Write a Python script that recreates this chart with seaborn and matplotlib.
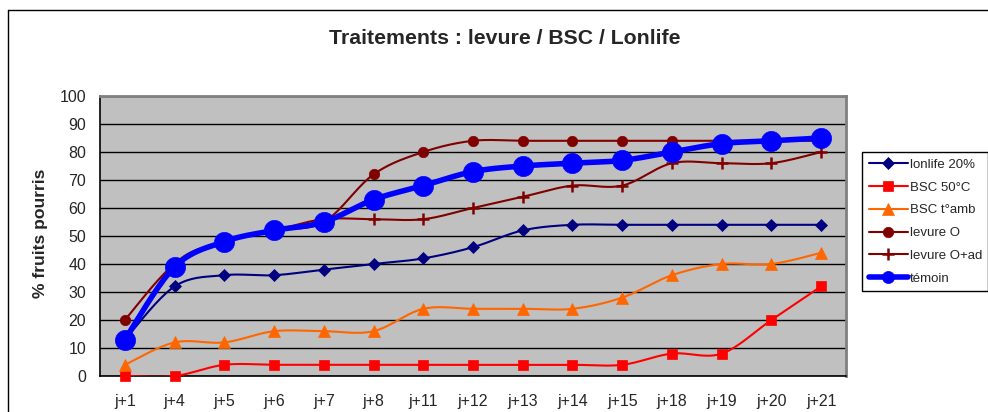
import numpy as np
import pandas as pd
import matplotlib
matplotlib.use("Agg")
import matplotlib.pyplot as plt
from matplotlib.lines import Line2D
import seaborn as sns

# chart data
days = ['j+1', 'j+4', 'j+5', 'j+6', 'j+7', 'j+8', 'j+11', 'j+12',
        'j+13', 'j+14', 'j+15', 'j+18', 'j+19', 'j+20', 'j+21']
lonlife = [13, 32, 36, 36, 38, 40, 42, 46, 52, 54, 54, 54, 54, 54, 54]
bsc_50 = [0, 0, 4, 4, 4, 4, 4, 4, 4, 4, 4, 8, 8, 20, 32]
bsc_amb = [4, 12, 12, 16, 16, 16, 24, 24, 24, 24, 28, 36, 40, 40, 44]
levure_o = [20, 40, 48, 52, 55, 72, 80, 84, 84, 84, 84, 84, 84, 84, 84]
levure_oad = [13, 40, 48, 52, 56, 56, 56, 60, 64, 68, 68, 76, 76, 76, 80]
temoin = [13, 39, 48, 52, 55, 63, 68, 73, 75, 76, 77, 80, 83, 84, 85]

series = [
    ('lonlife 20%', lonlife, '#000080', 'D', 6.5, 1.5),
    ('BSC 50°C', bsc_50, '#FF0000', 's', 7.5, 1.5),
    ('BSC t°amb', bsc_amb, '#FF6600', '^', 8, 1.5),
    ('levure O', levure_o, '#800000', 'o', 7.5, 1.5),
    ('levure O+ad', levure_oad, '#800000', '+', 9, 1.5),
    ('témoin', temoin, '#0000FF', 'o', 14.5, 4),
]


def smooth(x, y, n=20):
    # excel-like smoothed line (catmull-rom, used only for drawing the curve)
    x = np.asarray(x, float)
    y = np.asarray(y, float)
    px = np.concatenate([[x[0]], x, [x[-1]]])
    py = np.concatenate([[y[0]], y, [y[-1]]])
    xs, ys = [], []
    t = np.linspace(0, 1, n, endpoint=False)
    for i in range(1, len(px) - 2):
        p0, p1, p2, p3 = [np.array([px[j], py[j]]) for j in (i - 1, i, i + 1, i + 2)]
        c1 = p1 + (p2 - p0) / 6
        c2 = p2 - (p3 - p1) / 6
        b = ((1 - t) ** 3)[:, None] * p1 + (3 * (1 - t) ** 2 * t)[:, None] * c1 \
            + (3 * (1 - t) * t ** 2)[:, None] * c2 + (t ** 3)[:, None] * p2
        xs.extend(b[:, 0])
        ys.extend(b[:, 1])
    xs.append(x[-1])
    ys.append(y[-1])
    return np.array(xs), np.array(ys)


sns.set_style('white')
plt.rcParams['font.family'] = ['Liberation Sans', 'DejaVu Sans']

fig = plt.figure(figsize=(9.88, 4.12), dpi=100)
ax = fig.add_axes([100 / 988, 36 / 412, 746 / 988, 280 / 412])
ax.set_facecolor('#C0C0C0')

pos = np.arange(len(days))
handles = []
for name, vals, col, mk, ms, lw in series:
    sx, sy = smooth(pos, vals)
    curve = pd.DataFrame({'x': sx, 'y': sy})
    sns.lineplot(data=curve, x='x', y='y', ax=ax, color=col, linewidth=lw,
                 sort=False, estimator=None, legend=False, zorder=3)
    mew = 1.8 if mk == '+' else 0.5
    ax.plot(pos, vals, linestyle='none', marker=mk, markersize=ms, color=col,
            markeredgecolor=col, markeredgewidth=mew, zorder=4, clip_on=False)
    handles.append(Line2D([], [], color=col, linewidth=lw, marker=mk,
                          markersize=ms * 0.6 if ms > 10 else ms,
                          markeredgewidth=mew, label=name))

ax.set_xlim(-0.5, len(days) - 0.5)
ax.set_ylim(0, 100)
ax.set_yticks(np.arange(0, 101, 10))
ax.set_xticks(np.arange(-0.5, len(days), 1))
ax.set_xticklabels([])
ax.set_xticks(pos, minor=True)
ax.set_xticklabels(days, minor=True)
ax.tick_params(axis='x', which='major', direction='out', length=5, width=1, color='black')
ax.tick_params(axis='x', which='minor', length=0, pad=13, labelsize=11.5)
ax.tick_params(axis='y', direction='out', length=5, width=1, color='black', pad=5, labelsize=11.5)
ax.yaxis.grid(True, color='black', linewidth=1)
ax.set_axisbelow(True)
ax.set_xlabel('')
ax.set_ylabel('')
for s in ('left', 'bottom'):
    ax.spines[s].set_color('black')
    ax.spines[s].set_linewidth(1.2)
for s in ('top', 'right'):
    ax.spines[s].set_color('#808080')
    ax.spines[s].set_linewidth(2)

fig.text(505 / 988, 1 - 38 / 412, 'Traitements : levure / BSC / Lonlife',
         ha='center', va='center', fontsize=15.3, fontweight='bold')
fig.text(40 / 988, 1 - 233 / 412, '% fruits pourris', rotation=90,
         ha='center', va='center', fontsize=12.6, fontweight='bold')

leg = fig.legend(handles=handles, loc='upper left',
                 bbox_to_anchor=(862 / 988, 1 - 152 / 412), frameon=True,
                 fancybox=False, framealpha=1, edgecolor='black', fontsize=9.5,
                 handlelength=3.0, handletextpad=0.1, labelspacing=0.8,
                 borderpad=0.5, borderaxespad=0)
leg.get_frame().set_linewidth(1)

# chart area border
fig.add_artist(Line2D([8 / 988, 1.01], [1 - 10 / 412, 1 - 10 / 412],
                      transform=fig.transFigure, color='black', linewidth=1))
fig.add_artist(Line2D([8 / 988, 8 / 988], [-0.01, 1 - 10 / 412],
                      transform=fig.transFigure, color='black', linewidth=1))

fig.savefig('out.png', dpi=100)
